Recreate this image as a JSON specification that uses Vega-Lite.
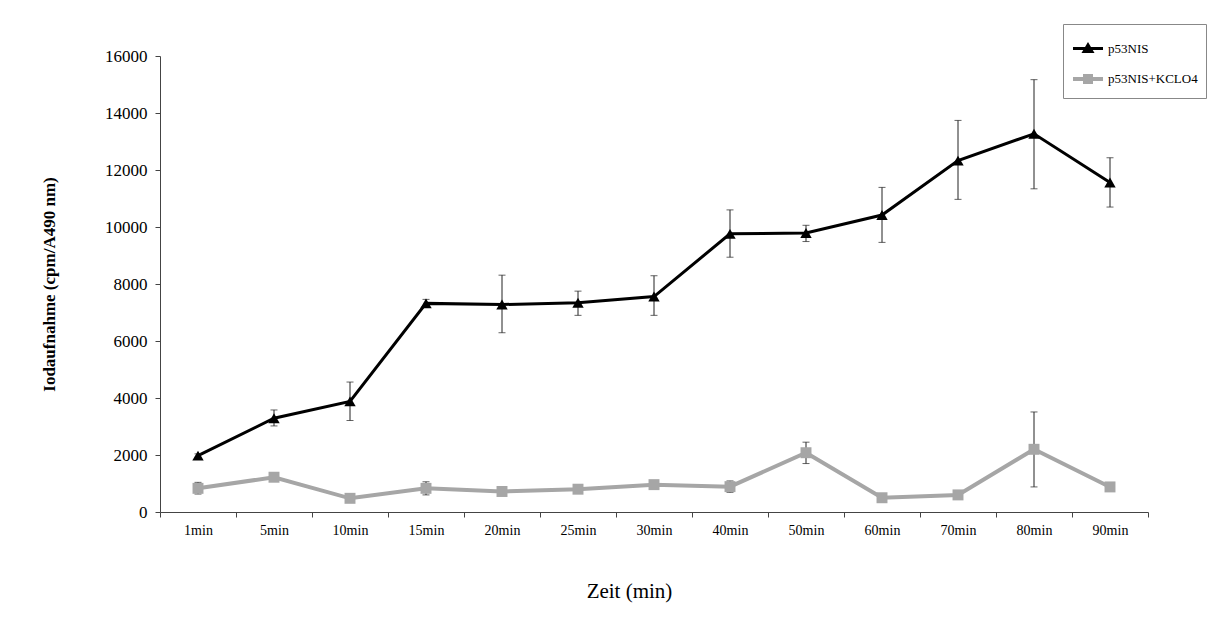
{
  "$schema": "https://vega.github.io/schema/vega-lite/v6.json",
  "autosize": {"type": "none"},
  "width": 988,
  "height": 456,
  "padding": {"left": 160, "top": 56, "right": 69, "bottom": 123},
  "background": "white",
  "config": {"view": {"stroke": null}, "font": "Liberation Serif"},
  "data": {"values": [
    {"t": "1min", "s": "p53NIS", "v": 1980, "lo": 1920, "hi": 2040},
    {"t": "5min", "s": "p53NIS", "v": 3290, "lo": 3020, "hi": 3580},
    {"t": "10min", "s": "p53NIS", "v": 3880, "lo": 3210, "hi": 4560},
    {"t": "15min", "s": "p53NIS", "v": 7320, "lo": 7180, "hi": 7460},
    {"t": "20min", "s": "p53NIS", "v": 7280, "lo": 6290, "hi": 8310},
    {"t": "25min", "s": "p53NIS", "v": 7340, "lo": 6900, "hi": 7750},
    {"t": "30min", "s": "p53NIS", "v": 7560, "lo": 6900, "hi": 8290},
    {"t": "40min", "s": "p53NIS", "v": 9760, "lo": 8940, "hi": 10600},
    {"t": "50min", "s": "p53NIS", "v": 9790, "lo": 9490, "hi": 10060},
    {"t": "60min", "s": "p53NIS", "v": 10420, "lo": 9460, "hi": 11390},
    {"t": "70min", "s": "p53NIS", "v": 12330, "lo": 10970, "hi": 13740},
    {"t": "80min", "s": "p53NIS", "v": 13270, "lo": 11340, "hi": 15170},
    {"t": "90min", "s": "p53NIS", "v": 11560, "lo": 10700, "hi": 12430},
    {"t": "1min", "s": "p53NIS+KCLO4", "v": 830, "lo": 630, "hi": 1040},
    {"t": "5min", "s": "p53NIS+KCLO4", "v": 1220, "lo": 1150, "hi": 1290},
    {"t": "10min", "s": "p53NIS+KCLO4", "v": 480, "lo": 430, "hi": 530},
    {"t": "15min", "s": "p53NIS+KCLO4", "v": 830, "lo": 600, "hi": 1060},
    {"t": "20min", "s": "p53NIS+KCLO4", "v": 720, "lo": 660, "hi": 780},
    {"t": "25min", "s": "p53NIS+KCLO4", "v": 800, "lo": 740, "hi": 860},
    {"t": "30min", "s": "p53NIS+KCLO4", "v": 960, "lo": 900, "hi": 1020},
    {"t": "40min", "s": "p53NIS+KCLO4", "v": 890, "lo": 690, "hi": 1090},
    {"t": "50min", "s": "p53NIS+KCLO4", "v": 2080, "lo": 1700, "hi": 2450},
    {"t": "60min", "s": "p53NIS+KCLO4", "v": 500, "lo": 450, "hi": 550},
    {"t": "70min", "s": "p53NIS+KCLO4", "v": 600, "lo": 550, "hi": 650},
    {"t": "80min", "s": "p53NIS+KCLO4", "v": 2200, "lo": 880, "hi": 3510},
    {"t": "90min", "s": "p53NIS+KCLO4", "v": 880, "lo": 830, "hi": 930}
  ]},
  "encoding": {
    "x": {
      "field": "t", "type": "ordinal",
      "sort": ["1min","5min","10min","15min","20min","25min","30min","40min","50min","60min","70min","80min","90min"],
      "scale": {"type": "band", "paddingInner": 0, "paddingOuter": 0},
      "axis": {
        "title": "Zeit (min)", "titleFontSize": 21, "titleFontWeight": "normal", "titleColor": "#000", "titlePadding": 43,
        "titleX": 469, "titleAlign": "center", "titleAnchor": "start",
        "labelAngle": 0, "labelFontSize": 14, "labelColor": "#000", "labelPadding": 6,
        "tickBand": "extent", "tickSize": 5, "tickColor": "#444", "domainColor": "#444", "grid": false
      }
    }
  },
  "layer": [
    {
      "mark": {"type": "line"},
      "encoding": {
        "y": {
          "field": "v", "type": "quantitative",
          "scale": {"domain": [0, 16000]},
          "axis": {
            "title": "Iodaufnahme (cpm/A490 nm)", "titleFontSize": 17, "titleFontWeight": "bold", "titleColor": "#000", "titlePadding": 46,
            "values": [0,2000,4000,6000,8000,10000,12000,14000,16000], "format": "d",
            "labelFontSize": 17, "labelColor": "#000", "labelPadding": 8,
            "tickSize": 5, "tickColor": "#444", "domainColor": "#444", "grid": false
          }
        },
        "color": {
          "field": "s", "type": "nominal",
          "scale": {"domain": ["p53NIS", "p53NIS+KCLO4"], "range": ["#000000", "#a6a6a6"]},
          "legend": {
            "title": null, "orient": "none", "legendX": 903, "legendY": -32,
            "strokeColor": "#888", "padding": 8, "fillColor": "white",
            "labelFont": "Liberation Serif", "labelFontSize": 13, "labelColor": "#000", "labelOffset": 3,
            "symbolSize": 900, "symbolStrokeWidth": 3, "rowPadding": 4,
            "encode": {
              "symbols": {"update": {
                "shape": {"signal": "datum.value == 'p53NIS' ? 'M-1,0L1,0M-0.26,0.2L0,-0.24L0.26,0.2Z' : 'M-1,0L1,0M-0.2,-0.2L0.2,-0.2L0.2,0.2L-0.2,0.2Z'"},
                "fill": {"signal": "datum.value == 'p53NIS' ? '#000000' : '#a6a6a6'"},
                "stroke": {"signal": "datum.value == 'p53NIS' ? '#000000' : '#a6a6a6'"},
                "strokeWidth": {"signal": "datum.value == 'p53NIS' ? 3 : 4"},
                "opacity": {"value": 1}
              }}
            }
          }
        },
        "strokeWidth": {"field": "s", "type": "nominal", "scale": {"domain": ["p53NIS", "p53NIS+KCLO4"], "range": [3, 4]}, "legend": null}
      }
    },
    {
      "mark": {"type": "rule", "color": "#222", "strokeWidth": 1},
      "encoding": {"y": {"field": "lo", "type": "quantitative"}, "y2": {"field": "hi"}}
    },
    {
      "mark": {"type": "tick", "color": "#222", "thickness": 1, "size": 7, "orient": "horizontal"},
      "encoding": {"y": {"field": "lo", "type": "quantitative"}}
    },
    {
      "mark": {"type": "tick", "color": "#222", "thickness": 1, "size": 7, "orient": "horizontal"},
      "encoding": {"y": {"field": "hi", "type": "quantitative"}}
    },
    {
      "transform": [{"filter": "datum.s == 'p53NIS'"}],
      "mark": {"type": "point", "filled": true, "opacity": 1, "size": 130, "shape": "triangle-up", "color": "#000000"},
      "encoding": {"y": {"field": "v", "type": "quantitative"}}
    },
    {
      "transform": [{"filter": "datum.s == 'p53NIS+KCLO4'"}],
      "mark": {"type": "point", "filled": true, "opacity": 1, "size": 120, "shape": "square", "color": "#a6a6a6"},
      "encoding": {"y": {"field": "v", "type": "quantitative"}}
    }
  ]
}
